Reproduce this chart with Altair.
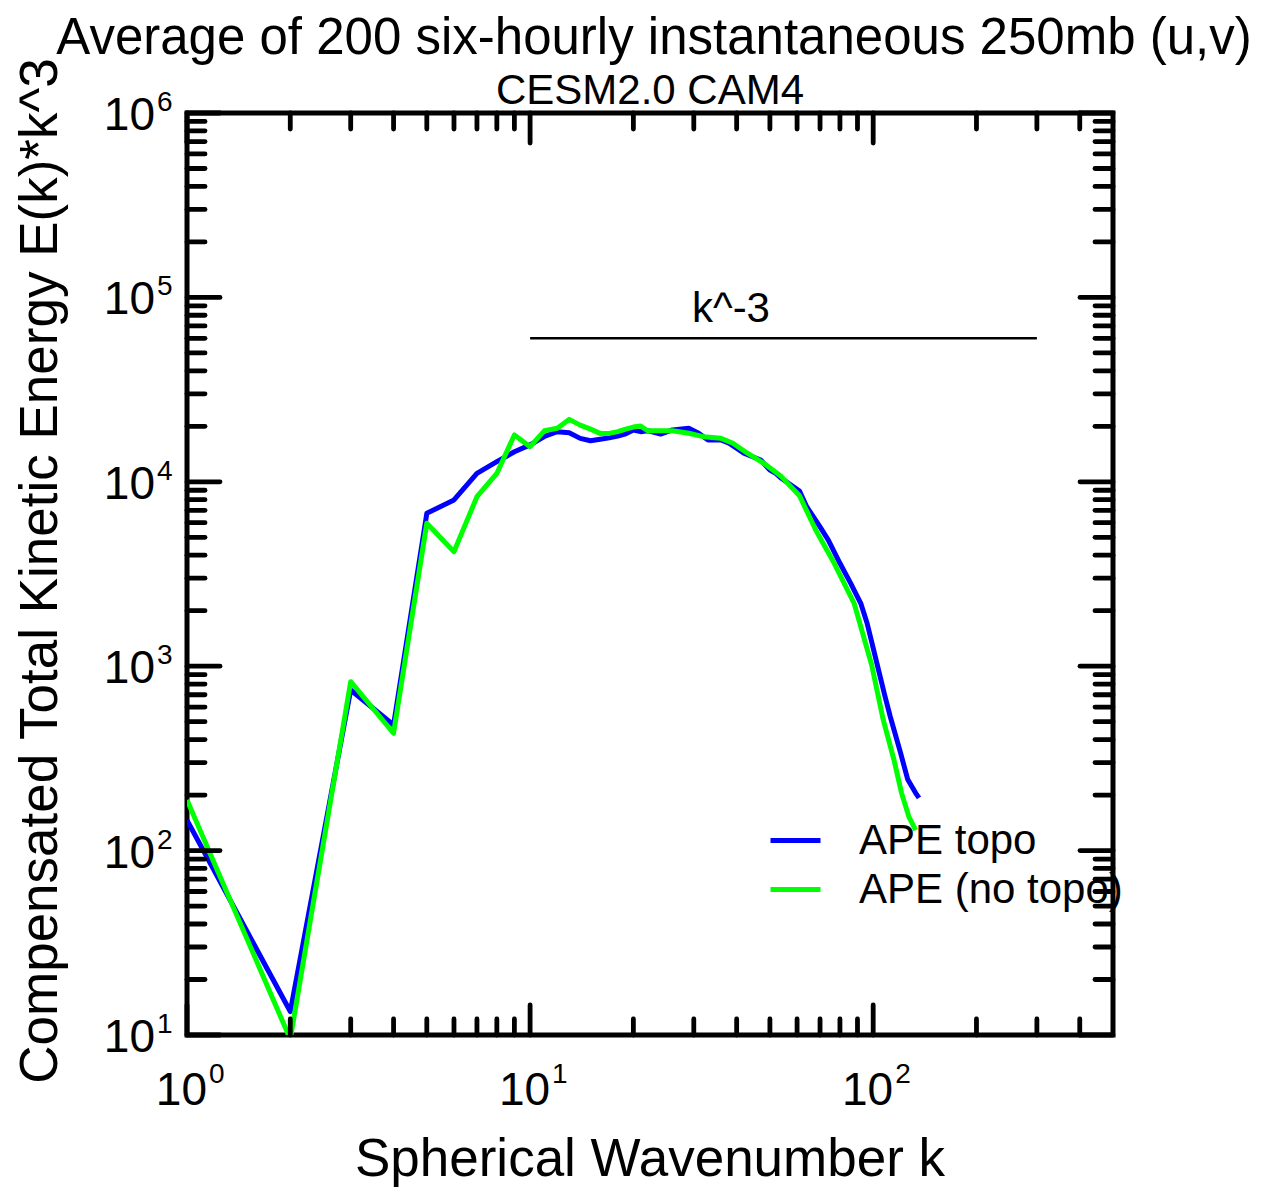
import altair as alt
import pandas as pd

# ---------------- data ----------------
k_topo = [1, 2, 3, 4, 5, 6, 7, 8, 9, 10, 11, 12, 13, 14, 15, 16, 17, 18, 19, 20,
          21, 22, 24, 26, 29, 31, 33, 36, 38, 42, 47, 50, 52, 54, 61, 64, 70, 74,
          80, 86, 92, 96, 102, 108, 112, 120, 126, 133, 136]
e_topo = [146, 13.4, 743, 480, 6750, 7970, 11100, 12850, 14550, 15850, 17600, 18700,
          18450, 17200, 16700, 17000, 17300, 17700, 18200, 19100, 18700, 18930, 18160,
          19100, 19500, 18330, 16860, 16860, 16180, 14290, 13130, 11580, 11120, 10450,
          8910, 7330, 5690, 4830, 3614, 2815, 2193, 1710, 1080, 698, 537, 342, 244, 205, 193]

k_notopo = [1, 2, 3, 4, 5, 6, 7, 8, 9, 10, 11, 12, 13, 14, 15, 16, 17, 18, 19, 20,
            21, 22, 26, 29, 32, 36, 39, 43, 48, 54, 61, 68, 77, 88, 99, 107, 115,
            121, 127, 133]
e_notopo = [188, 9.5, 824, 433, 5960, 4180, 8300, 11100, 17950, 15500, 18900, 19500,
            21800, 20300, 19300, 18300, 18300, 18700, 19300, 19800, 20080, 18930, 18930,
            18330, 17570, 17210, 16180, 14290, 12600, 10670, 8400, 5478, 3614, 2193,
            1015, 511, 310, 205, 153, 129]

series_names = ["APE topo", "APE (no topo)"]
series_colors = ["#0000ff", "#00ff00"]

x_major = [1, 10, 100]
x_major_exp = ["0", "1", "2"]
x_minor = [2, 3, 4, 5, 6, 7, 8, 9, 20, 30, 40, 50, 60, 70, 80, 90, 200, 300, 400]
y_major = [10, 100, 1000, 10000, 100000, 1000000]
y_major_exp = ["1", "2", "3", "4", "5", "6"]
y_minor = [m * d for d in [10, 100, 1000, 10000, 100000] for m in range(2, 10)]

ref_k = [10]
ref_k2 = [300]
ref_e = [60000]
ref_label = ["k^-3"]
ref_label_k = [38.5]
ref_label_e = [73600]

title_text = "Average of 200 six-hourly instantaneous 250mb (u,v)"
subtitle_text = "CESM2.0 CAM4"
x_title = "Spherical Wavenumber k"
y_title = "Compensated Total Kinetic Energy E(k)*k^3"

# ---------------- chart ----------------
W, H = 926, 922
FONT = "Liberation Sans"

xs = alt.Scale(type="log", domain=[1, 500], nice=False)
ys = alt.Scale(type="log", domain=[10, 1000000], nice=False)
cscale = alt.Scale(domain=series_names, range=series_colors)

df_topo = pd.DataFrame({"k": k_topo, "E": e_topo, "series": series_names[0]})
df_notopo = pd.DataFrame({"k": k_notopo, "E": e_notopo, "series": series_names[1]})

legend = alt.Legend(orient="none", legendX=581, legendY=700, title=None,
                    symbolType="stroke", symbolSize=2500, symbolStrokeWidth=5,
                    labelFontSize=42, labelFont=FONT, labelColor="black",
                    labelOffset=36, rowPadding=0, padding=0, labelLimit=500)


def line_layer(df):
    return alt.Chart(df).mark_line(strokeWidth=5, clip=True, strokeJoin="round").encode(
        x=alt.X("k:Q", scale=xs, axis=None),
        y=alt.Y("E:Q", scale=ys, axis=None),
        color=alt.Color("series:N", scale=cscale, legend=legend),
        order=alt.Order("k:Q"),
    )


TW = 4.8


def xticks(vals, y0, y1):
    return alt.Chart(pd.DataFrame({"v": vals})).mark_rule(
        stroke="black", strokeWidth=TW, strokeCap="round").encode(
        x=alt.X("v:Q", scale=xs, axis=None), y=alt.value(y0), y2=alt.value(y1))


def yticks(vals, x0, x1):
    return alt.Chart(pd.DataFrame({"v": vals})).mark_rule(
        stroke="black", strokeWidth=TW, strokeCap="round").encode(
        y=alt.Y("v:Q", scale=ys, axis=None), x=alt.value(x0), x2=alt.value(x1))


ticks = [
    xticks(x_major, H, H - 30), xticks(x_minor, H, H - 16),
    xticks(x_major, 0, 30), xticks(x_minor, 0, 16),
    yticks(y_major, 0, 33), yticks(y_minor, 0, 18),
    yticks(y_major, W, W - 33), yticks(y_minor, W, W - 18),
]

df_xl = pd.DataFrame({"v": x_major, "e": x_major_exp})
df_yl = pd.DataFrame({"v": y_major, "e": y_major_exp})

x_lab_base = alt.Chart(df_xl).mark_text(text="10", font=FONT, fontSize=46, align="right",
                                          baseline="alphabetic", dx=20, color="black").encode(
    x=alt.X("v:Q", scale=xs, axis=None), y=alt.value(H + 70))
x_lab_exp = alt.Chart(df_xl).mark_text(font=FONT, fontSize=28, align="left",
                                         baseline="alphabetic", dx=22, color="black").encode(
    x=alt.X("v:Q", scale=xs, axis=None), y=alt.value(H + 48), text="e:N")

y_lab_base = alt.Chart(df_yl).mark_text(text="10", font=FONT, fontSize=46, align="right",
                                          baseline="alphabetic", dy=17, color="black").encode(
    y=alt.Y("v:Q", scale=ys, axis=None), x=alt.value(-32))
y_lab_exp = alt.Chart(df_yl).mark_text(font=FONT, fontSize=28, align="left",
                                         baseline="alphabetic", dy=-2, color="black").encode(
    y=alt.Y("v:Q", scale=ys, axis=None), x=alt.value(-30), text="e:N")

ref_line = alt.Chart(pd.DataFrame({"k": ref_k, "k2": ref_k2, "E": ref_e})).mark_rule(
    color="black", strokeWidth=2.5).encode(
    x=alt.X("k:Q", scale=xs, axis=None), x2="k2:Q", y=alt.Y("E:Q", scale=ys, axis=None))
ref_text = alt.Chart(pd.DataFrame({"k": ref_label_k, "E": ref_label_e, "t": ref_label})).mark_text(
    font=FONT, fontSize=42, align="center", baseline="alphabetic", color="black").encode(
    x=alt.X("k:Q", scale=xs, axis=None), y=alt.Y("E:Q", scale=ys, axis=None), text="t:N")

title_mark = alt.Chart(pd.DataFrame({"t": [title_text]})).mark_text(
    font=FONT, fontSize=51, align="center", baseline="alphabetic", color="black").encode(
    x=alt.value(W / 2 + 4), y=alt.value(-59), text="t:N")
subtitle_mark = alt.Chart(pd.DataFrame({"t": [subtitle_text]})).mark_text(
    font=FONT, fontSize=42, align="center", baseline="alphabetic", color="black").encode(
    x=alt.value(W / 2), y=alt.value(-9), text="t:N")
xtitle_mark = alt.Chart(pd.DataFrame({"t": [x_title]})).mark_text(
    font=FONT, fontSize=53, align="center", baseline="alphabetic", color="black").encode(
    x=alt.value(W / 2), y=alt.value(H + 141), text="t:N")
ytitle_mark = alt.Chart(pd.DataFrame({"t": [y_title]})).mark_text(
    font=FONT, fontSize=53, align="center", baseline="alphabetic", angle=270, color="black").encode(
    x=alt.value(-130), y=alt.value(458), text="t:N")

chart = alt.layer(
    line_layer(df_topo), line_layer(df_notopo),
    *ticks,
    x_lab_base, x_lab_exp, y_lab_base, y_lab_exp,
    ref_line, ref_text,
    title_mark, subtitle_mark, xtitle_mark, ytitle_mark,
).properties(
    width=W, height=H,
    padding={"left": 179, "top": 105, "right": 150, "bottom": 152},
    autosize=alt.AutoSizeParams(type="none"),
).configure_view(stroke="black", strokeWidth=5)

chart.save("out.html", embed_options={"renderer": "svg", "actions": False})
